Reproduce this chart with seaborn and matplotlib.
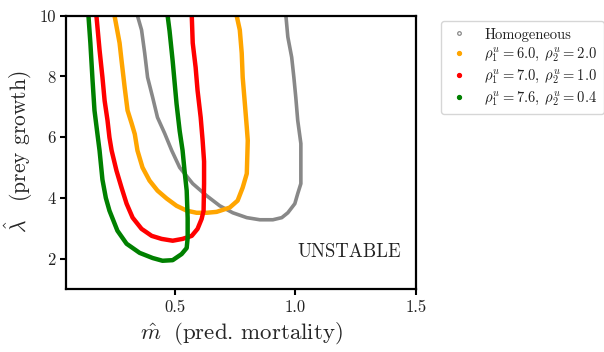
import matplotlib
matplotlib.use("Agg")
import matplotlib.pyplot as plt
from matplotlib.lines import Line2D
import seaborn as sns
import pandas as pd

# ---- data ----
hom_m = [0.346, 0.363, 0.376, 0.388, 0.409, 0.429, 0.459, 0.488, 0.521, 0.575, 0.633, 0.687,
         0.741, 0.799, 0.853, 0.907, 0.944, 0.969, 0.998, 1.010, 1.023, 1.023, 1.010, 1.002,
         0.994, 0.985, 0.969, 0.961]
hom_l = [10.0, 9.53, 8.77, 7.97, 7.31, 6.65, 6.12, 5.56, 5.00, 4.47, 4.07, 3.74,
         3.51, 3.35, 3.28, 3.28, 3.35, 3.51, 3.81, 4.14, 4.47, 5.79, 6.55, 7.31,
         7.97, 8.63, 9.30, 10.0]

or_m = [0.251, 0.272, 0.280, 0.293, 0.305, 0.322, 0.335, 0.346, 0.367, 0.396, 0.429, 0.467,
        0.508, 0.550, 0.591, 0.633, 0.674, 0.728, 0.761, 0.782, 0.799, 0.803, 0.799, 0.790,
        0.782, 0.778, 0.770, 0.757]
or_l = [10.0, 9.10, 8.53, 7.64, 6.88, 6.45, 6.10, 5.56, 5.00, 4.57, 4.24, 3.98,
        3.74, 3.58, 3.51, 3.51, 3.54, 3.68, 3.91, 4.34, 4.80, 5.89, 6.32, 7.20,
        7.97, 8.77, 9.53, 10.0]

red_m = [0.176, 0.189, 0.201, 0.210, 0.222, 0.230, 0.239, 0.259, 0.280, 0.301, 0.326, 0.363,
         0.405, 0.446, 0.492, 0.533, 0.571, 0.595, 0.612, 0.620, 0.622, 0.622, 0.616, 0.608,
         0.595, 0.587, 0.575, 0.571]
red_l = [10.0, 8.87, 7.97, 7.20, 6.55, 5.99, 5.56, 4.90, 4.34, 3.81, 3.35, 2.98,
         2.75, 2.65, 2.59, 2.65, 2.75, 2.98, 3.31, 3.58, 4.47, 5.20, 5.89, 6.65,
         7.54, 8.30, 9.10, 10.0]

gr_m = [0.143, 0.151, 0.160, 0.168, 0.180, 0.189, 0.201, 0.215, 0.230, 0.263, 0.301, 0.355,
        0.409, 0.450, 0.492, 0.529, 0.550, 0.554, 0.554, 0.550, 0.541, 0.533, 0.521, 0.508,
        0.492, 0.479, 0.471]
gr_l = [10.0, 9.10, 7.87, 6.88, 6.12, 5.56, 4.60, 4.00, 3.58, 2.92, 2.49, 2.19,
        2.02, 1.93, 1.95, 2.15, 2.35, 2.68, 3.34, 4.24, 4.90, 5.56, 6.20, 7.10,
        8.50, 9.50, 10.0]

labels = ["Homogeneous",
          r"$\rho_1^u = 6.0,\; \rho_2^u = 2.0$",
          r"$\rho_1^u = 7.0,\; \rho_2^u = 1.0$",
          r"$\rho_1^u = 7.6,\; \rho_2^u = 0.4$"]
colors = ["#888888", "#FFA500", "#FF0000", "#008000"]
x_ticks = [0.5, 1.0, 1.5]
y_ticks = [2, 4, 6, 8, 10]

# ---- style ----
sns.set_style("ticks")
plt.rcParams["font.family"] = ["cmr10", "DejaVu Serif"]
plt.rcParams["mathtext.fontset"] = "cm"
plt.rcParams["axes.unicode_minus"] = False
plt.rcParams["axes.formatter.use_mathtext"] = True

fig = plt.figure(figsize=(6.04, 3.52), dpi=100)
ax = fig.add_axes([66 / 604, 1 - 289 / 352, (416 - 66) / 604, (289 - 15.7) / 352])

series = [(hom_m, hom_l), (or_m, or_l), (red_m, red_l), (gr_m, gr_l)]
widths = [2.6, 3.2, 3.2, 3.2]
for (mm, ll), c, w in zip(series, colors, widths):
    df = pd.DataFrame({"m": mm, "lam": ll})
    sns.lineplot(data=df, x="m", y="lam", sort=False, estimator=None, color=c,
                 linewidth=w, ax=ax, legend=False)

ax.set_xlim(0.05, 1.5)
ax.set_ylim(1.0, 10.0)
ax.set_xticks(x_ticks)
ax.set_xticklabels(["0.5", "1.0", "1.5"])
ax.set_yticks(y_ticks)
ax.set_yticklabels([str(t) for t in y_ticks])
ax.tick_params(labelsize=12, width=1.5, length=4, color="black", labelcolor="#222222")
for s in ax.spines.values():
    s.set_linewidth(1.6)
    s.set_color("black")

ax.set_xlabel(r"$\hat{m}\;$ (pred. mortality)", fontsize=16.5, labelpad=4)
ax.set_ylabel(r"$\hat{\lambda}\quad$(prey growth)", fontsize=15.5, labelpad=3)

ax.text(1.222, 2.22, "UNSTABLE", fontsize=13.5, ha="center", va="center", color="#222222")

handles = [
    Line2D([], [], linestyle="none", marker="o", markersize=2.6, markerfacecolor="white",
           markeredgecolor="#888888", markeredgewidth=0.9),
    Line2D([], [], linestyle="none", marker="o", markersize=2.8, color=colors[1]),
    Line2D([], [], linestyle="none", marker="o", markersize=2.8, color=colors[2]),
    Line2D([], [], linestyle="none", marker="o", markersize=2.8, color=colors[3]),
]
leg = fig.legend(handles, labels, loc="upper left", bbox_to_anchor=(441 / 604, 1 - 21 / 352),
                 bbox_transform=fig.transFigure, fontsize=10.5, frameon=True,
                 fancybox=True, edgecolor="#cccccc", handlelength=1.6,
                 labelspacing=0.25, borderpad=0.45, handletextpad=0.9, borderaxespad=0)
for t in leg.get_texts():
    t.set_color("#222222")

fig.savefig("out.png", dpi=100)
